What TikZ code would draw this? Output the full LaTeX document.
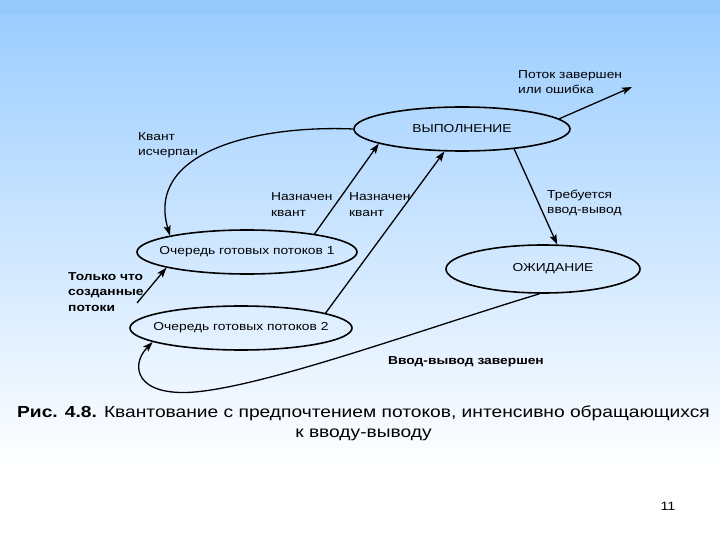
\documentclass[tikz,border=0pt]{standalone}
\usepackage{fontspec}
\setmainfont{Liberation Sans}[FakeStretch=1.2]
\usetikzlibrary{shapes.geometric,arrows.meta}
\definecolor{bgblue}{RGB}{153,204,255}
\tikzset{
  state/.style={ellipse, draw=black, line width=1.6pt, inner sep=0pt, font=\fontsize{11.5}{14}\selectfont},
  lbl/.style={anchor=base west, inner sep=0pt, align=left, font=\fontsize{11.5}{15.5}\selectfont},
  conn/.style={line width=1.3pt, -{Stealth[length=10pt,width=7pt,inset=2pt]}},
}
\begin{document}
\begin{tikzpicture}[x=1pt,y=-1pt]
\path[use as bounding box] (0,0) rectangle (720,540);
\fill[white] (0,0) rectangle (720,540);
\shade[top color=bgblue, bottom color=white] (0,0) rectangle (720,470);
\fill[bgblue!97!black!60!bgblue] (0,0) rectangle (720,14);

% states
\node[state, minimum width=216pt, minimum height=44pt] (run) at (462,129) {\makebox[0pt]{ВЫПОЛНЕНИЕ}};
\node[state, minimum width=220pt, minimum height=44pt] (q1) at (247,252) {\makebox[0pt]{Очередь готовых потоков 1}};
\node[state, minimum width=222pt, minimum height=44pt] (q2) at (241,328) {\makebox[0pt]{Очередь готовых потоков 2}};
\node[state, minimum width=194pt, minimum height=48pt] (wait) at (543,269) {\makebox[0pt]{\hspace*{20pt}ОЖИДАНИЕ}};

% labels (base = last line)
\node[lbl] (ldone) at (518,94) {Поток завершен\\или ошибка};
\node[lbl] (lquant) at (138,156) {Квант\\исчерпан};
\node[lbl] (lassign1) at (271,216) {Назначен\\квант};
\node[lbl] (lassign2) at (349,216) {Назначен\\квант};
\node[lbl] (lio) at (547,214) {Требуется\\ввод-вывод};
\node[lbl, font=\fontsize{11.5}{15.5}\selectfont\bfseries] (lnew) at (68,311) {Только что\\созданные\\потоки};
\node[lbl, font=\fontsize{11.5}{15.5}\selectfont\bfseries] (liodone) at (388,364) {Ввод-вывод завершен};

% free ends
\coordinate (cdone) at (632,87);
\coordinate (cnew) at (137,303);

% connectors
\draw[conn] (run.6) -- (cdone);
\draw[conn] (run.west) .. controls (260,125) and (145,150) .. (q1.168);
\draw[conn] (q1.15) -- (run.190);
\draw[conn] (q2.10) -- (run.232);
\draw[conn] (run.339) -- (wait.60);
\draw[conn] (cnew) -- (q1.191);
\draw[conn] (wait.262) .. controls (420,330) and (270,385) .. (195,392)
   .. controls (135,397) and (130,365) .. (q2.189);

% caption
\node[anchor=base, inner sep=0pt, align=center, font=\fontsize{16}{20}\selectfont] (cap) at (363.5,437)
  {\textbf{Рис. 4.8.} Квантование с предпочтением потоков, интенсивно обращающихся\\к вводу-выводу};
\node[anchor=base, inner sep=0pt, font=\fontsize{12}{14}\selectfont] (pnum) at (668,510) {11};
\end{tikzpicture}
\end{document}
